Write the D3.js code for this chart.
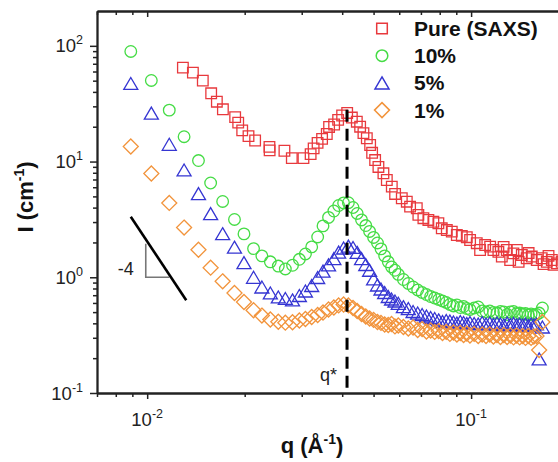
<!DOCTYPE html>
<html>
<head>
<meta charset="utf-8">
<script src="https://cdn.jsdelivr.net/npm/d3@7"></script>
<style>
  body { margin: 0; background: #fff; }
  svg { display: block; font-family: "Liberation Sans", Arial, sans-serif; }
</style>
</head>
<body>
<svg></svg>
<script>
const width = 558;
const height = 462;

// SAXS, pure sample
const qPure = [0.01289, 0.01384, 0.01485, 0.01576, 0.01641, 0.01713, 0.01869, 0.01910, 0.01965, 0.02055,
  0.02154, 0.02385, 0.02388, 0.02653, 0.02796, 0.03037, 0.03196, 0.03265, 0.03358, 0.03467,
  0.03585, 0.03644, 0.03777, 0.03886, 0.03998, 0.04144, 0.04284, 0.04438, 0.04544, 0.04652,
  0.04765, 0.04879, 0.04948, 0.05055, 0.05175, 0.05362, 0.05493, 0.05691, 0.05826, 0.06110,
  0.06331, 0.06481, 0.06797, 0.06874, 0.07124, 0.07381, 0.07647, 0.07925, 0.08119, 0.08414,
  0.08717, 0.09035, 0.09361, 0.09698, 0.09929, 0.1041, 0.1066, 0.1105, 0.1145, 0.1172,
  0.1214, 0.1244, 0.1260, 0.1289, 0.1320, 0.1351, 0.1384, 0.1402, 0.1434, 0.1485,
  0.1505, 0.1539, 0.1595, 0.1652, 0.1674, 0.1713, 0.1734, 0.1775, 0.1797, 0.1838,
  0.1904, 0.1965]
const iPure = [64.8, 58.7, 50.0, 38.9, 32.9, 28.3, 24.2, 21.7, 18.6, 16.6,
  15.2, 13.4, 12.5, 12.4, 10.7, 10.7, 11.6, 13.0, 14.5, 15.7,
  17.3, 19.9, 20.9, 22.9, 25.0, 26.3, 24.0, 22.1, 20.0, 17.6,
  15.9, 13.9, 11.9, 10.3, 8.98, 7.92, 6.93, 6.07, 5.25, 4.82,
  4.50, 4.08, 3.95, 3.46, 3.24, 3.13, 3.02, 2.93, 2.65, 2.56,
  2.48, 2.32, 2.28, 2.22, 2.10, 1.97, 1.72, 1.90, 1.84, 1.72,
  1.66, 1.51, 1.83, 1.72, 1.41, 1.61, 1.72, 1.36, 1.56, 1.46,
  1.62, 1.51, 1.41, 1.46, 1.30, 1.36, 1.53, 1.41, 1.28, 1.32,
  1.36, 1.30]

// SANS q grid shared by the three blends
const qSans = [0.0089, 0.0103, 0.0117, 0.0130, 0.0144, 0.0157, 0.0171, 0.0186, 0.0199, 0.0213,
  0.0226, 0.0240, 0.0254, 0.0267, 0.0281, 0.0295, 0.0308, 0.0322, 0.0336, 0.0349,
  0.0363, 0.0377, 0.0390, 0.0404, 0.0418, 0.0432, 0.0445, 0.0459, 0.0473, 0.0486,
  0.0500, 0.0514, 0.0527, 0.0541, 0.0555, 0.0568, 0.0582, 0.0596,
  0.0618, 0.0640, 0.0662, 0.0684, 0.0706, 0.0728, 0.0750, 0.0772, 0.0794, 0.0816,
  0.0838, 0.0860, 0.0882, 0.0904, 0.0926, 0.0948, 0.0970, 0.0992,
  0.1022, 0.1052, 0.1082, 0.1112, 0.1142, 0.1172, 0.1202, 0.1232, 0.1262, 0.1292,
  0.1322, 0.1352, 0.1382, 0.1412, 0.1442, 0.1472, 0.1502, 0.1532, 0.1562, 0.1592,
  0.1622, 0.1660]
const i10 = [89.4, 50.2, 27.8, 16.4, 10.2, 6.53, 4.52, 3.16, 2.37, 1.77,
  1.53, 1.36, 1.25, 1.18, 1.27, 1.43, 1.59, 1.83, 2.23, 2.78,
  3.29, 3.74, 4.17, 4.39, 4.41, 4.01, 3.56, 3.13, 2.80, 2.49,
  2.21, 1.98, 1.76, 1.53, 1.36, 1.23, 1.15, 1.06,
  0.957, 0.884, 0.824, 0.777, 0.739, 0.710, 0.682, 0.662, 0.643, 0.624,
  0.606, 0.582, 0.565, 0.576, 0.548, 0.559, 0.537, 0.527,
  0.543, 0.554, 0.511, 0.501, 0.511, 0.496, 0.491, 0.506, 0.501, 0.477,
  0.501, 0.506, 0.486, 0.491, 0.482, 0.486, 0.472, 0.482, 0.472, 0.477,
  0.491, 0.543]
const i5 = [47.3, 26.2, 14.1, 8.46, 5.28, 3.55, 2.38, 1.82, 1.34, 1.00,
  0.824, 0.732, 0.676, 0.656, 0.637, 0.696, 0.761, 0.849, 0.996, 1.13,
  1.28, 1.45, 1.65, 1.79, 1.86, 1.81, 1.64, 1.45, 1.29, 1.15,
  0.967, 0.858, 0.792, 0.739, 0.682, 0.649, 0.624, 0.596,
  0.557, 0.537, 0.506, 0.491, 0.477, 0.463, 0.449, 0.440, 0.428, 0.415,
  0.423, 0.419, 0.411, 0.403, 0.415, 0.407, 0.399, 0.407,
  0.399, 0.395, 0.407, 0.395, 0.403, 0.391, 0.403, 0.395, 0.387, 0.403,
  0.391, 0.399, 0.387, 0.395, 0.387, 0.395, 0.383, 0.395, 0.387, 0.395,
  0.197, 0.372]
const i1 = [13.5, 7.89, 4.39, 2.69, 1.73, 1.21, 0.923, 0.732, 0.612, 0.519,
  0.467, 0.432, 0.413, 0.405, 0.409, 0.423, 0.436, 0.454, 0.472, 0.496,
  0.527, 0.548, 0.571, 0.582, 0.571, 0.543, 0.511, 0.482, 0.458, 0.440,
  0.428, 0.411, 0.403, 0.391, 0.387, 0.395, 0.376, 0.383,
  0.372, 0.361, 0.368, 0.350, 0.357, 0.340, 0.347, 0.337, 0.343, 0.330,
  0.337, 0.324, 0.333, 0.320, 0.330, 0.317, 0.327, 0.314,
  0.324, 0.311, 0.320, 0.311, 0.320, 0.308, 0.317, 0.305, 0.317, 0.305,
  0.314, 0.302, 0.314, 0.302, 0.311, 0.299, 0.311, 0.299, 0.308, 0.311,
  0.235, 0.411]

const seriesNames = ['Pure (SAXS)', '10%', '5%', '1%']
const seriesColors = ['#e8393d', '#45dc45', '#3535d2', '#f2943c']
const seriesShapes = ['square', 'circle', 'triangle', 'diamond']

const xMajor = [0.01, 0.1]
const xMinor = [0.007, 0.008, 0.009, 0.02, 0.03, 0.04, 0.05, 0.06, 0.07, 0.08, 0.09, 0.2]
const yMajor = [0.1, 1, 10, 100]
const yMinor = [0.2, 0.3, 0.4, 0.5, 0.6, 0.7, 0.8, 0.9, 2, 3, 4, 5, 6, 7, 8, 9,
  20, 30, 40, 50, 60, 70, 80, 90]
const xTickExp = ['-2', '-1']
const yTickExp = ['-1', '0', '1', '2']

// q* marker and the -4 power-law guide
const qStar = 0.0414
const qStarTop = 28
const slopeLine = [[0.0089, 3.34], [0.0132, 0.633]]
const slopeTri = [[0.0099, 1.95], [0.0099, 1.0], [0.0117, 1.0]]

const series = [
  { q: qPure, I: iPure },
  { q: qSans, I: i10 },
  { q: qSans, I: i5 },
  { q: qSans, I: i1 }
].map((s, k) => ({
  name: seriesNames[k], color: seriesColors[k], shape: seriesShapes[k],
  points: s.q.map((q, j) => [q, s.I[j]])
}))

const x = d3.scaleLog().domain([0.007, 0.25]).range([97, 600])
const y = d3.scaleLog().domain([0.1, 200]).range([393, 11])

const svg = d3.select('svg')
  .attr('width', width)
  .attr('height', height)

function shapePath(shape) {
  if (shape === 'square') return 'M-5.3,-5.3h10.6v10.6h-10.6Z'
  if (shape === 'circle') return 'M5.8,0A5.8,5.8 0 1,1 -5.8,0A5.8,5.8 0 1,1 5.8,0Z'
  if (shape === 'triangle') return 'M0,-6L7,6L-7,6Z'
  return 'M0,-7.5L7.5,0L0,7.5L-7.5,0Z'
}

// data markers
series.forEach((s) => {
  svg.append('g')
    .selectAll('path')
    .data(s.points)
    .join('path')
      .attr('d', shapePath(s.shape))
      .attr('transform', (d) => `translate(${x(d[0])},${y(d[1])})`)
      .attr('fill', 'none')
      .attr('stroke', s.color)
      .attr('stroke-width', 1.3)
})

// axes
function styleAxis(g) {
  g.select('.domain').attr('stroke', '#222').attr('stroke-width', 1.8)
  g.selectAll('.tick line').attr('stroke', '#222').attr('stroke-width', 1.5)
  g.selectAll('.tick text').remove()
}

svg.append('g').attr('transform', 'translate(0,393)')
  .call(d3.axisBottom(x).tickValues(xMajor).tickSize(6).tickSizeOuter(0).tickFormat(''))
  .call(styleAxis)
svg.append('g').attr('transform', 'translate(0,393)')
  .call(d3.axisBottom(x).tickValues(xMinor).tickSize(4).tickSizeOuter(0).tickFormat(''))
  .call(styleAxis)
svg.append('g').attr('transform', 'translate(0,11)')
  .call(d3.axisTop(x).tickValues(xMajor).tickSize(-6).tickSizeOuter(0).tickFormat(''))
  .call(styleAxis)
svg.append('g').attr('transform', 'translate(0,11)')
  .call(d3.axisTop(x).tickValues(xMinor).tickSize(-4).tickSizeOuter(0).tickFormat(''))
  .call(styleAxis)
svg.append('g').attr('transform', 'translate(97,0)')
  .call(d3.axisLeft(y).tickValues(yMajor).tickSize(7).tickSizeOuter(0).tickFormat(''))
  .call(styleAxis)
svg.append('g').attr('transform', 'translate(97,0)')
  .call(d3.axisLeft(y).tickValues(yMinor).tickSize(4).tickSizeOuter(0).tickFormat(''))
  .call(styleAxis)

// tick labels as 10^n
const xLab = svg.append('g').selectAll('text')
  .data(xMajor)
  .join('text')
    .attr('x', (d) => x(d))
    .attr('y', 426)
    .attr('text-anchor', 'middle')
    .attr('font-size', 18.5)
    .attr('fill', '#222')
xLab.append('tspan').text('10')
xLab.append('tspan').attr('dy', -8).attr('font-size', 12.5).text((d, i) => xTickExp[i])

const yLab = svg.append('g').selectAll('text')
  .data(yMajor)
  .join('text')
    .attr('x', 83)
    .attr('y', (d) => y(d) + 6.5)
    .attr('text-anchor', 'end')
    .attr('font-size', 18.5)
    .attr('fill', '#222')
yLab.append('tspan').text('10')
yLab.append('tspan').attr('dy', -8).attr('font-size', 12.5).text((d, i) => yTickExp[i])

// axis titles
const xTitle = svg.append('text')
  .attr('x', 312).attr('y', 453)
  .attr('text-anchor', 'middle')
  .attr('font-size', 22).attr('font-weight', 'bold').attr('fill', '#111')
xTitle.append('tspan').text('q (Å')
xTitle.append('tspan').attr('dy', -9).attr('font-size', 14).text('-1')
xTitle.append('tspan').attr('dy', 9).text(')')

const yTitle = svg.append('text')
  .attr('transform', 'translate(33,197) rotate(-90)')
  .attr('text-anchor', 'middle')
  .attr('font-size', 22).attr('font-weight', 'bold').attr('fill', '#111')
yTitle.append('tspan').text('I (cm')
yTitle.append('tspan').attr('dy', -9).attr('font-size', 14).text('-1')
yTitle.append('tspan').attr('dy', 9).text(')')

// q* dashed line
svg.append('line')
  .attr('x1', x(qStar)).attr('x2', x(qStar))
  .attr('y1', y(qStarTop)).attr('y2', y(0.1))
  .attr('stroke', '#000')
  .attr('stroke-width', 3)
  .attr('stroke-dasharray', '12,7')
svg.append('text')
  .attr('x', x(qStar) - 10).attr('y', 381)
  .attr('text-anchor', 'end')
  .attr('font-size', 18).attr('fill', '#222')
  .text('q*')

// power-law guide
const line = d3.line().x((d) => x(d[0])).y((d) => y(d[1]))
svg.append('path')
  .attr('d', line(slopeTri))
  .attr('fill', 'none')
  .attr('stroke', '#777')
  .attr('stroke-width', 1.6)
svg.append('path')
  .attr('d', line(slopeLine))
  .attr('fill', 'none')
  .attr('stroke', '#000')
  .attr('stroke-width', 2.6)
svg.append('text')
  .attr('x', x(slopeTri[0][0]) - 12).attr('y', y(1) - 2)
  .attr('text-anchor', 'end')
  .attr('font-size', 18).attr('fill', '#222')
  .text('-4')

// legend
const legend = svg.append('g')
  .selectAll('g')
  .data(series)
  .join('g')
    .attr('transform', (d, i) => `translate(382,${28.5 + i * 27.2})`)
legend.append('path')
  .attr('d', (d) => shapePath(d.shape))
  .attr('fill', 'none')
  .attr('stroke', (d) => d.color)
  .attr('stroke-width', 1.5)
legend.append('text')
  .attr('x', 32).attr('y', 7.5)
  .attr('font-size', 21).attr('font-weight', 'bold').attr('fill', '#111')
  .text((d) => d.name)
</script>
</body>
</html>
